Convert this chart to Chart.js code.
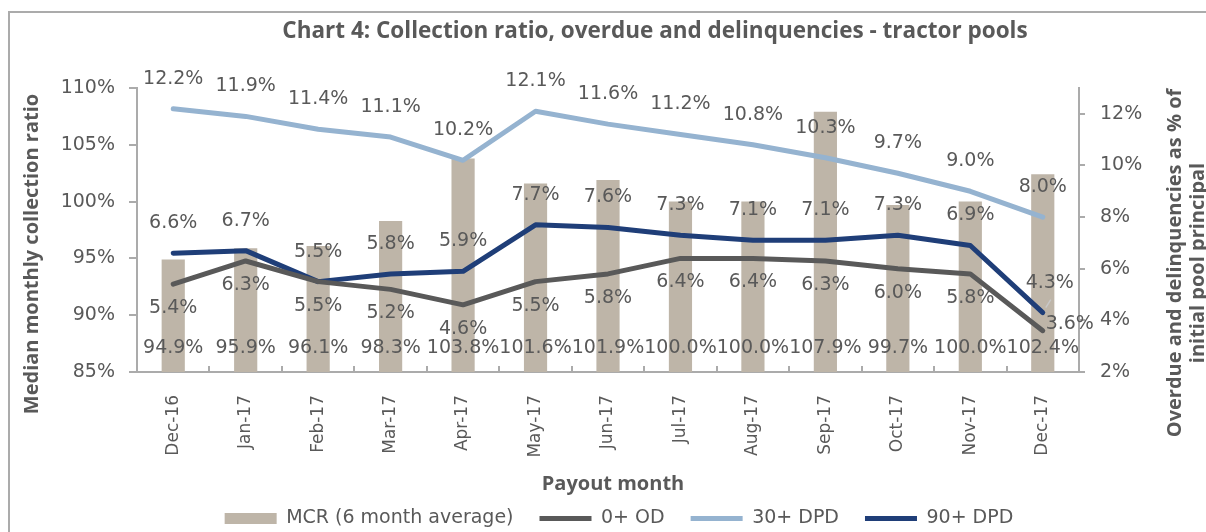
<!DOCTYPE html>
<html>
<head>
<meta charset="utf-8">
<script src="https://cdn.jsdelivr.net/npm/chart.js@4"></script>
<style>
html, body { margin: 0; padding: 0; background: #fff; overflow: hidden; width: 1206px; height: 532px; }
#frame { position: absolute; left: 8px; top: 11px; width: 1300px; height: 600px; border: 2px solid #ABABAB; }
#c { position: absolute; left: 0; top: 0; }
</style>
</head>
<body>
<div id="frame"></div>
<canvas id="c" width="1206" height="560"></canvas>
<script>
// Data
const months = ['Dec-16', 'Jan-17', 'Feb-17', 'Mar-17', 'Apr-17', 'May-17', 'Jun-17',
                'Jul-17', 'Aug-17', 'Sep-17', 'Oct-17', 'Nov-17', 'Dec-17'];
const mcr   = [94.9, 95.9, 96.1, 98.3, 103.8, 101.6, 101.9, 100.0, 100.0, 107.9, 99.7, 100.0, 102.4];
const od0   = [5.4, 6.3, 5.5, 5.2, 4.6, 5.5, 5.8, 6.4, 6.4, 6.3, 6.0, 5.8, 3.6];
const dpd30 = [12.2, 11.9, 11.4, 11.1, 10.2, 12.1, 11.6, 11.2, 10.8, 10.3, 9.7, 9.0, 8.0];
const dpd90 = [6.6, 6.7, 5.5, 5.8, 5.9, 7.7, 7.6, 7.3, 7.1, 7.1, 7.3, 6.9, 4.3];
const leftTicks  = [85, 90, 95, 100, 105, 110];
const rightTicks = [2, 4, 6, 8, 10, 12];

const grey = '#595959';
const axisGrey = '#ABABAB';
const numFont = "'DejaVu Sans', sans-serif";
const boldFont = "'Open Sans', Roboto, sans-serif";

function pct(v) {
    return v.toFixed(1) + '%';
}

// value labels next to bars and points
const valueLabels = {
    id: 'valueLabels',
    afterDatasetsDraw(chart) {
        const ctx = chart.ctx;
        const baseY = chart.scales.y.getPixelForValue(leftTicks[0]);
        ctx.save();
        ctx.font = '19px ' + numFont;
        ctx.fillStyle = grey;
        ctx.textAlign = 'center';
        ctx.textBaseline = 'middle';
        chart.data.datasets.forEach((ds, di) => {
            const meta = chart.getDatasetMeta(di);
            meta.data.forEach((el, i) => {
                let x = el.x;
                let y = ds.type === 'bar' ? baseY - 24 : el.y + ds.labelDy;
                if (i === ds.data.length - 1 && ds.lastShift) {
                    x = el.x + ds.lastShift[0];
                    y = el.y + ds.lastShift[1];
                    if (ds.leader) {
                        ctx.strokeStyle = '#C8C8C8';
                        ctx.lineWidth = 1.5;
                        ctx.beginPath();
                        ctx.moveTo(el.x + 8, el.y - 13);
                        ctx.lineTo(el.x + 3, el.y - 5);
                        ctx.stroke();
                    }
                }
                ctx.fillText(pct(ds.data[i]), x, y);
            });
        });
        ctx.restore();
    }
};

// small tick marks inside the x axis, between months
const innerTicks = {
    id: 'innerTicks',
    beforeDatasetsDraw(chart) {
        const xs = chart.scales.x;
        const ctx = chart.ctx;
        const step = xs.width / months.length;
        ctx.save();
        ctx.strokeStyle = axisGrey;
        ctx.lineWidth = 2;
        for (let i = 1; i <= months.length; i++) {
            const x = Math.round(xs.left + i * step);
            ctx.beginPath();
            ctx.moveTo(x, xs.top - 6);
            ctx.lineTo(x, xs.top);
            ctx.stroke();
        }
        ctx.restore();
    }
};

// chart title and axis titles
const titles = {
    id: 'titles',
    afterDraw(chart) {
        const ctx = chart.ctx;
        ctx.save();
        ctx.fillStyle = grey;
        ctx.textAlign = 'center';
        ctx.textBaseline = 'middle';
        ctx.font = 'bold 22.5px ' + boldFont;
        ctx.fillText('Chart 4: Collection ratio, overdue and delinquencies - tractor pools', 655, 32);
        ctx.font = 'bold 20px ' + boldFont;
        ctx.fillText('Payout month', 613, 484);

        ctx.save();
        ctx.translate(32, 254);
        ctx.rotate(-Math.PI / 2);
        ctx.fillText('Median monthly collection ratio', 0, 0);
        ctx.restore();

        ctx.save();
        ctx.translate(1175, 263);
        ctx.rotate(-Math.PI / 2);
        ctx.fillText('Overdue and delinquencies as % of', 0, 0);
        ctx.fillText('initial pool principal', 0, 23);
        ctx.restore();
        ctx.restore();
    }
};

const ctx = document.getElementById('c').getContext('2d');
const chart = new Chart(ctx, {
    data: {
        labels: months,
        datasets: [
            {
                type: 'bar',
                label: 'MCR (6 month average)',
                data: mcr,
                yAxisID: 'y',
                backgroundColor: '#BEB5A8',
                borderWidth: 0,
                barPercentage: 0.32,
                categoryPercentage: 1,
                pointStyle: 'rect',
                order: 2
            },
            {
                type: 'line',
                label: '0+ OD',
                data: od0,
                yAxisID: 'y2',
                borderColor: '#595959',
                backgroundColor: '#595959',
                borderWidth: 5,
                borderCapStyle: 'round',
                borderJoinStyle: 'round',
                pointRadius: 0,
                pointStyle: 'line',
                tension: 0,
                labelDy: 24,
                lastShift: [27, -7],
                order: 1
            },
            {
                type: 'line',
                label: '30+ DPD',
                data: dpd30,
                yAxisID: 'y2',
                borderColor: '#95B3D0',
                backgroundColor: '#95B3D0',
                borderWidth: 5,
                borderCapStyle: 'round',
                borderJoinStyle: 'round',
                pointRadius: 0,
                pointStyle: 'line',
                tension: 0,
                labelDy: -30,
                order: 1
            },
            {
                type: 'line',
                label: '90+ DPD',
                data: dpd90,
                yAxisID: 'y2',
                borderColor: '#1F3E78',
                backgroundColor: '#1F3E78',
                borderWidth: 5,
                borderCapStyle: 'round',
                borderJoinStyle: 'round',
                pointRadius: 0,
                pointStyle: 'line',
                tension: 0,
                labelDy: -30,
                lastShift: [7, -30],
                leader: true,
                order: 1
            }
        ]
    },
    options: {
        responsive: false,
        animation: false,
        devicePixelRatio: 1,
        layout: { padding: { left: 32, right: 0, top: 88, bottom: 22 } },
        plugins: {
            title: { display: false },
            tooltip: { enabled: false },
            legend: {
                position: 'bottom',
                labels: {
                    usePointStyle: true,
                    pointStyleWidth: 52,
                    boxHeight: 11,
                    padding: 26,
                    color: grey,
                    font: { family: numFont, size: 19 },
                    sort: (a, b) => a.datasetIndex - b.datasetIndex
                }
            }
        },
        scales: {
            x: {
                afterFit: (s) => { s.height = 111; },
                grid: { display: false },
                border: { display: true, color: axisGrey, width: 2 },
                ticks: {
                    autoSkip: false,
                    minRotation: 90,
                    maxRotation: 90,
                    padding: 15,
                    color: grey,
                    font: { family: numFont, size: 17 }
                }
            },
            y: {
                position: 'left',
                min: leftTicks[0],
                max: leftTicks[leftTicks.length - 1],
                afterFit: (s) => { s.width = 105; },
                afterBuildTicks: (s) => { s.ticks = leftTicks.map(v => ({ value: v })); },
                grid: { drawOnChartArea: false, drawTicks: true, tickLength: 8, color: axisGrey, lineWidth: 2 },
                border: { display: true, color: axisGrey, width: 2 },
                ticks: {
                    padding: 14,
                    color: grey,
                    font: { family: numFont, size: 19 },
                    callback: (v) => v + '%'
                }
            },
            y2: {
                position: 'right',
                min: 2,
                max: 13,
                afterFit: (s) => { s.width = 127; },
                afterBuildTicks: (s) => { s.ticks = rightTicks.map(v => ({ value: v })); },
                grid: { drawOnChartArea: false, drawTicks: true, tickLength: 6, color: axisGrey, lineWidth: 2 },
                border: { display: true, color: axisGrey, width: 2 },
                ticks: {
                    padding: 15,
                    color: grey,
                    font: { family: numFont, size: 19 },
                    callback: (v) => v + '%'
                }
            }
        }
    },
    plugins: [innerTicks, valueLabels, titles]
});
</script>
</body>
</html>
